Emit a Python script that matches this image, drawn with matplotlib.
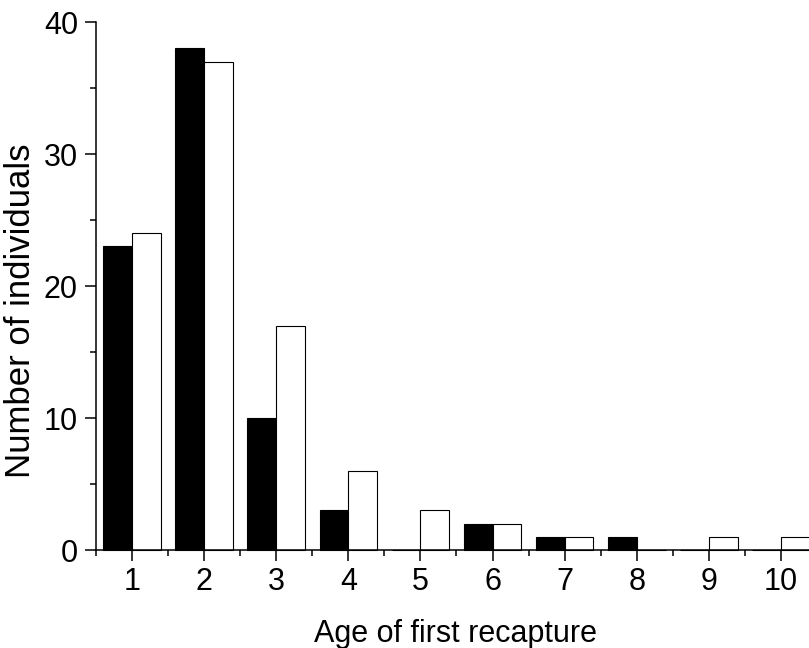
import matplotlib
matplotlib.use("Agg")
import matplotlib.pyplot as plt
import numpy as np
from matplotlib.ticker import MultipleLocator, FixedLocator

plt.rcParams['font.family'] = ['Liberation Sans', 'DejaVu Sans']

ages = [1, 2, 3, 4, 5, 6, 7, 8, 9, 10]
black_counts = [23, 38, 10, 3, 0, 2, 1, 1, 0, 0]
white_counts = [24, 37, 17, 6, 3, 2, 1, 0, 1, 1]

fig = plt.figure(figsize=(8.09, 6.48), dpi=100)
ax = fig.add_axes([0.1187, 0.1512, 0.8813, 0.8148])

x = np.array(ages)
w = 0.4
ax.bar(x - w / 2, black_counts, width=w, color='black', edgecolor='black',
       linewidth=0.8, clip_on=False)
ax.bar(x + w / 2, white_counts, width=w, color='white', edgecolor='black',
       linewidth=0.8, clip_on=False)

ax.set_xlim(0.5, 10.39)
ax.set_ylim(0, 40)
ax.set_xticks(ages)
ax.xaxis.set_minor_locator(FixedLocator(np.arange(0.5, 10.5, 1)))
ax.yaxis.set_major_locator(MultipleLocator(10))
ax.yaxis.set_minor_locator(MultipleLocator(5))

for side in ['top', 'right']:
    ax.spines[side].set_visible(False)
for side in ['left', 'bottom']:
    ax.spines[side].set_linewidth(1.1)

ax.tick_params(which='major', direction='out', length=8, width=1.1,
               labelsize=22)
ax.tick_params(which='minor', direction='out', length=4.5, width=1.1)
ax.tick_params(axis='x', which='major', pad=4)
ax.tick_params(axis='y', which='major', pad=5)

# axis titles placed in figure coordinates
fig.text(455 / 809, 6 / 648, 'Age of first recapture', fontsize=22,
         ha='center', va='baseline')
fig.text(4 / 809, 1 - 311 / 648, 'Number of individuals', fontsize=25,
         rotation=90, ha='left', va='center')

fig.savefig('out.png', dpi=100)
